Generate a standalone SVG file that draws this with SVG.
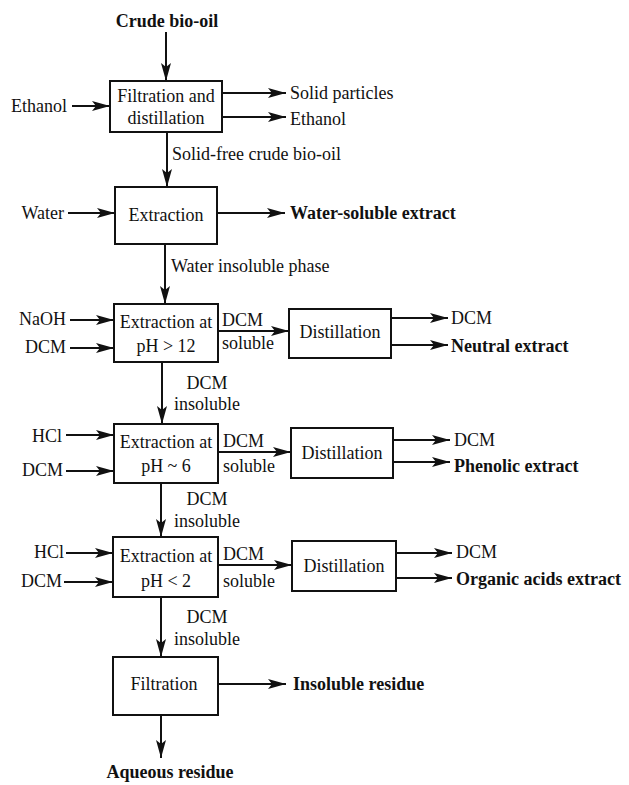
<svg xmlns="http://www.w3.org/2000/svg" width="629" height="785" viewBox="0 0 629 785">
<style>
text{font-family:"Liberation Serif","Times New Roman",serif;font-size:18px;fill:#111}
.b{font-weight:bold}
.m{text-anchor:middle}
.e{text-anchor:end}
rect{fill:#fff;stroke:#111;stroke-width:2}
.c line{stroke:#111;stroke-width:2;marker-end:url(#ah)}
</style>
<defs>
<marker id="ah" markerUnits="userSpaceOnUse" markerWidth="20" markerHeight="12" refX="18" refY="5.5" orient="auto">
<path d="M0,0.5 L18,5.5 L0,10.5 L4,5.5 z" fill="#111"/>
</marker>
</defs>
<rect width="629" height="785" style="fill:#fff;stroke:none"/>
<g class="c" id="connectors">
<line x1="166" y1="32" x2="166" y2="81"/>
<line x1="72" y1="106" x2="110" y2="106"/>
<line x1="222" y1="93" x2="286" y2="93"/>
<line x1="222" y1="117" x2="286" y2="117"/>
<line x1="167" y1="132" x2="167" y2="187"/>
<line x1="68" y1="213" x2="115" y2="213"/>
<line x1="217" y1="213" x2="285" y2="213"/>
<line x1="165" y1="244" x2="165" y2="304"/>
<line x1="70" y1="320" x2="114" y2="320"/>
<line x1="70" y1="348" x2="114" y2="348"/>
<line x1="218" y1="331" x2="289" y2="331"/>
<line x1="391" y1="318" x2="448" y2="318"/>
<line x1="391" y1="345" x2="448" y2="345"/>
<line x1="162" y1="362" x2="162" y2="424"/>
<line x1="66" y1="435" x2="114" y2="435"/>
<line x1="66" y1="471" x2="114" y2="471"/>
<line x1="218" y1="452" x2="291" y2="452"/>
<line x1="393" y1="440" x2="450" y2="440"/>
<line x1="393" y1="462" x2="450" y2="462"/>
<line x1="161" y1="483" x2="161" y2="537"/>
<line x1="66" y1="553" x2="113" y2="553"/>
<line x1="64" y1="582" x2="113" y2="582"/>
<line x1="218" y1="565" x2="292" y2="565"/>
<line x1="396" y1="553" x2="452" y2="553"/>
<line x1="396" y1="578" x2="452" y2="578"/>
<line x1="161" y1="597" x2="161" y2="657"/>
<line x1="218" y1="684" x2="286" y2="684"/>
<line x1="161" y1="715" x2="161" y2="758"/>
</g>
<g id="filtration-distillation"><rect x="110" y="81" width="112" height="51"/><text class="m" x="166" y="102">Filtration and</text><text class="m" x="166" y="124">distillation</text></g>
<g id="extraction"><rect x="115" y="187" width="102" height="57"/><text class="m" x="166" y="221">Extraction</text></g>
<g id="extraction-ph12"><rect x="114" y="304" width="104" height="58"/><text class="m" x="166" y="328">Extraction at</text><text class="m" x="166" y="352">pH &gt; 12</text></g>
<g id="extraction-ph6"><rect x="114" y="424" width="104" height="59"/><text class="m" x="166" y="448">Extraction at</text><text class="m" x="166" y="472">pH ~ 6</text></g>
<g id="extraction-ph2"><rect x="113" y="537" width="105" height="60"/><text class="m" x="166" y="562">Extraction at</text><text class="m" x="166" y="587">pH &lt; 2</text></g>
<g id="filtration"><rect x="113" y="657" width="105" height="58"/><text class="m" x="164" y="690">Filtration</text></g>
<g id="distillation1"><rect x="289" y="309" width="102" height="49"/><text class="m" x="340" y="338">Distillation</text></g>
<g id="distillation2"><rect x="291" y="428" width="102" height="50"/><text class="m" x="342" y="459">Distillation</text></g>
<g id="distillation3"><rect x="292" y="541" width="104" height="50"/><text class="m" x="344" y="572">Distillation</text></g>
<g id="labels">
<text class="b m" x="167" y="27">Crude bio-oil</text>
<text class="e" x="67" y="112">Ethanol</text>
<text x="290" y="99">Solid particles</text>
<text x="290" y="125">Ethanol</text>
<text x="172" y="160">Solid-free crude bio-oil</text>
<text class="e" x="64" y="219">Water</text>
<text class="b" x="290" y="219">Water-soluble extract</text>
<text x="171" y="272">Water insoluble phase</text>
<text class="e" x="66" y="325">NaOH</text>
<text class="e" x="66" y="353">DCM</text>
<text x="222" y="326">DCM</text>
<text x="222" y="349">soluble</text>
<text x="451" y="324">DCM</text>
<text class="b" x="451" y="352">Neutral extract</text>
<text class="m" x="207" y="389">DCM</text>
<text class="m" x="207" y="410">insoluble</text>
<text class="e" x="62" y="442">HCl</text>
<text class="e" x="63" y="476">DCM</text>
<text x="223" y="447">DCM</text>
<text x="223" y="472">soluble</text>
<text x="454" y="446">DCM</text>
<text class="b" x="454" y="472">Phenolic extract</text>
<text class="m" x="207" y="505">DCM</text>
<text class="m" x="207" y="527">insoluble</text>
<text class="e" x="64" y="558">HCl</text>
<text class="e" x="62" y="587">DCM</text>
<text x="223" y="560">DCM</text>
<text x="223" y="587">soluble</text>
<text x="456" y="558">DCM</text>
<text class="b" x="456" y="585">Organic acids extract</text>
<text class="m" x="207" y="623">DCM</text>
<text class="m" x="207" y="645">insoluble</text>
<text class="b" x="293" y="690">Insoluble residue</text>
<text class="b m" x="170" y="778">Aqueous residue</text>
</g>
</svg>
